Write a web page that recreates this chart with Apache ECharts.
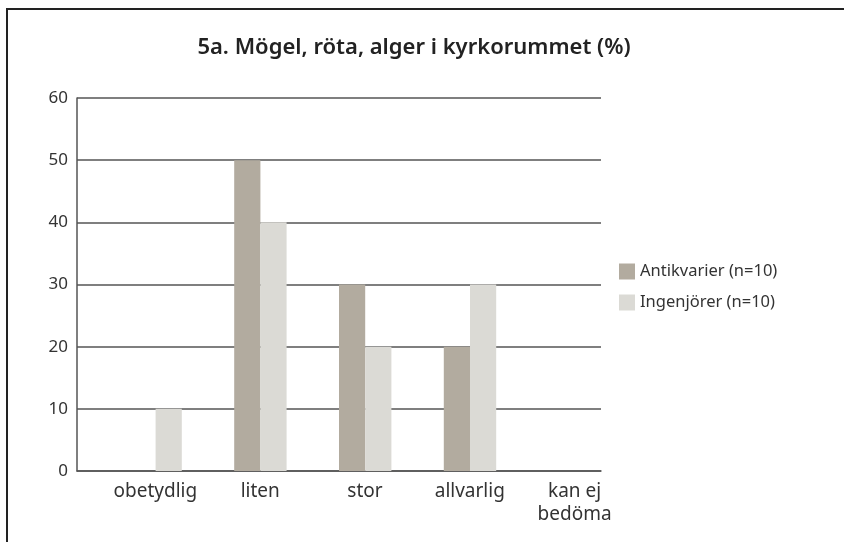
<!DOCTYPE html>
<html>
<head>
<meta charset="utf-8">
<script src="https://cdn.jsdelivr.net/npm/echarts@6/dist/echarts.min.js"></script>
<style>
html,body{margin:0;padding:0;background:#fff;}
#wrap{position:relative;width:844px;height:542px;overflow:hidden;}
#frame{position:absolute;left:6px;top:8px;width:850px;height:560px;border-top:2px solid #222;border-left:2px solid #222;box-sizing:border-box;}
#chart{position:absolute;left:0;top:0;width:844px;height:542px;}
</style>
</head>
<body>
<div id="wrap"><div id="frame"></div><div id="chart"></div></div>
<script>
const titleText = '5a. Mögel, röta, alger i kyrkorummet (%)';
const categories = ['obetydlig', 'liten', 'stor', 'allvarlig', 'kan ej\nbedöma'];
const antikvarier = [0, 50, 30, 20, 0];
const ingenjorer = [10, 40, 20, 30, 0];
const seriesNames = ['Antikvarier (n=10)', 'Ingenjörer (n=10)'];
const yTicks = { min: 0, max: 60, interval: 10 };

const font = '"Noto Sans", "Open Sans", sans-serif';
const chart = echarts.init(document.getElementById('chart'));
const empty = categories.map(() => '-');
chart.setOption({
  animation: false,
  backgroundColor: 'transparent',
  title: {
    text: titleText,
    left: 409, top: 32, textAlign: 'center',
    textStyle: { fontFamily: font, fontSize: 22, fontWeight: 600, color: '#222' }
  },
  legend: {
    data: seriesNames,
    orient: 'vertical',
    left: 614, top: 258,
    itemWidth: 16, itemHeight: 16, itemGap: 14,
    icon: 'rect',
    textStyle: { fontFamily: font, fontSize: 16.5, color: '#333' }
  },
  grid: { left: 77, right: 243, top: 98, bottom: 71, containLabel: false },
  xAxis: {
    type: 'category',
    data: categories,
    boundaryGap: true,
    axisLine: { show: true, lineStyle: { color: '#555', width: 1.5 } },
    axisTick: { show: false },
    axisLabel: {
      interval: 0,
      margin: 9,
      fontFamily: font, fontSize: 19, color: '#333', lineHeight: 23,
      align: 'center',
      padding: [0, 0, 0, 52]
    }
  },
  yAxis: {
    type: 'value',
    min: yTicks.min, max: yTicks.max, interval: yTicks.interval,
    axisLine: { show: true, lineStyle: { color: '#555', width: 1.5 } },
    axisTick: { show: false },
    axisLabel: { margin: 9, fontFamily: font, fontSize: 17, color: '#333' },
    splitLine: { show: true, lineStyle: { color: '#555', width: 1.5 } }
  },
  series: [
    { type: 'bar', name: '_a', data: empty, barGap: 0, barCategoryGap: 0, silent: true },
    { type: 'bar', name: '_b', data: empty, barGap: 0, barCategoryGap: 0, silent: true },
    { type: 'bar', name: seriesNames[0], data: antikvarier, barGap: 0, barCategoryGap: 0,
      itemStyle: { color: '#b2ab9f' } },
    { type: 'bar', name: seriesNames[1], data: ingenjorer, barGap: 0, barCategoryGap: 0,
      itemStyle: { color: '#dbdad5' } }
  ]
});
</script>
</body>
</html>
